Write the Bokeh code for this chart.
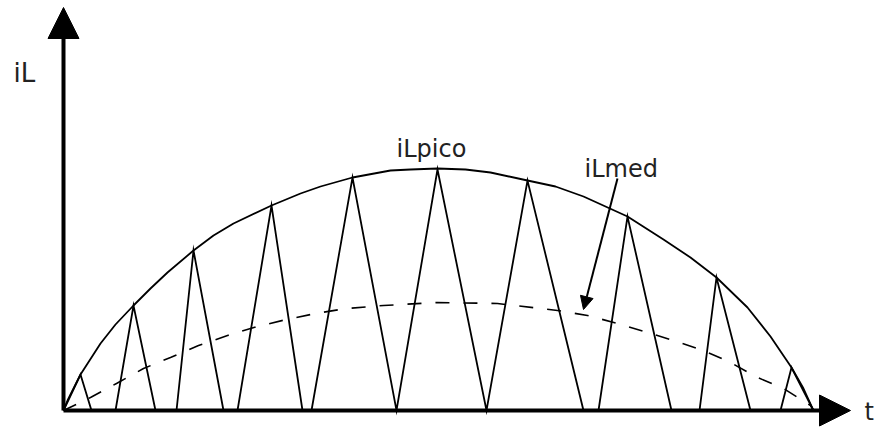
from bokeh.plotting import figure
from bokeh.models import Range1d, Arrow, NormalHead, ColumnDataSource
from bokeh.core.properties import value
from bokeh.embed import file_html
from bokeh.resources import INLINE

# ---- data (t, iL) ----
# envelope (peak current)
env_t = [0, 4, 9, 17, 37, 52, 70, 87, 104, 130, 150, 170, 208, 237, 257, 289, 327,
         347, 374, 402, 427, 464, 492, 520, 564, 600, 627, 653, 684, 707, 728, 740, 750]
env_i = [0, 10, 20, 36, 67, 86, 105, 122, 138, 160, 175, 187, 205, 217, 224, 233, 240,
         241, 242, 241, 238, 230, 224, 214, 194, 171, 153, 133, 103, 74, 43, 22, 0]

# triangular ripple current
tri_t = [0, 17, 28, 52, 70, 92, 113, 130, 160, 174, 208, 239, 248, 289, 333, 374, 423,
         464, 520, 535, 564, 608, 636, 653, 687, 717, 728, 750]
tri_i = [0, 36, 0, 0, 105, 0, 0, 160, 0, 0, 205, 0, 0, 233, 0, 241, 0,
         230, 0, 0, 194, 0, 0, 133, 0, 0, 43, 0]

# average current (dashed)
avg_t = [0, 27, 53, 80, 107, 135, 164, 194, 223, 252, 283, 320, 374, 434, 494, 524,
         554, 584, 610, 640, 667, 694, 720, 747, 750]
avg_i = [0, 13, 27, 42, 53, 65, 75, 84, 91, 97, 102, 105, 108, 107, 100, 95,
         87, 78, 70, 60, 48, 33, 22, 5, 0]

# axis extents
x_axis_end = 787
y_axis_end = 403

# labels
lbl_text = ["iL", "iLpico", "iLmed", "t"]
lbl_t = [-50, 333, 521, 801]
lbl_i = [338, 262, 242, -1]
lbl_size = ["26px", "24px", "24px", "24px"]

# pointer to the average curve
ptr_start = (554, 232)
ptr_end = (520, 101)

p = figure(width=880, height=428, output_backend="svg", toolbar_location=None,
           x_range=Range1d(-63, 817), y_range=Range1d(-18, 410),
           min_border=0, outline_line_color=None)
p.axis.visible = False
p.grid.visible = False
p.background_fill_color = "white"
p.border_fill_color = "white"

p.line(env_t, env_i, line_color="black", line_width=1.8)
p.line(tri_t, tri_i, line_color="black", line_width=1.8, line_join="miter")
p.line(avg_t, avg_i, line_color="black", line_width=1.6, line_dash="14 14")

# axes with arrows
p.add_layout(Arrow(x_start=0, y_start=0, x_end=0, y_end=y_axis_end,
                   line_color="black", line_width=4,
                   end=NormalHead(size=31, fill_color="black", line_color="black", line_width=1)))
p.add_layout(Arrow(x_start=0, y_start=0, x_end=x_axis_end, y_end=0,
                   line_color="black", line_width=4,
                   end=NormalHead(size=31, fill_color="black", line_color="black", line_width=1)))

# pointer arrow
p.add_layout(Arrow(x_start=ptr_start[0], y_start=ptr_start[1], x_end=ptr_end[0], y_end=ptr_end[1],
                   line_color="black", line_width=2,
                   end=NormalHead(size=13, fill_color="black", line_color="black", line_width=1)))

src = ColumnDataSource(dict(x=lbl_t, y=lbl_i, text=lbl_text, size=lbl_size))
p.text(x="x", y="y", text="text", source=src, text_font=value("DejaVu Sans"),
       text_font_size="size", text_color="#222222", text_baseline="alphabetic",
       text_align="left")

open("out.html", "w").write(file_html(p, INLINE))
